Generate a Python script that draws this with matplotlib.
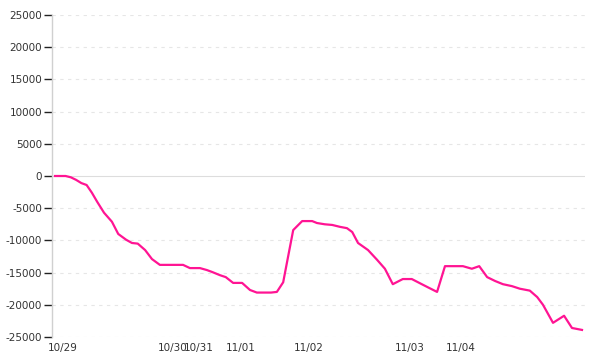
import matplotlib
matplotlib.use("Agg")
import matplotlib.pyplot as plt

# sample positions (index along the series) and values
steps = [0, 2, 3, 4, 5, 6, 7, 8, 9.3, 10.8, 12, 13.5, 14.6, 15.7, 17.1, 18.4, 19.4, 19.9,
         24.3, 25.6, 27.5, 28.8, 29.8, 31.3, 32.4, 33.8, 35.5, 37.0, 38.3, 41.0, 42.1,
         43.3, 44.0, 45.2, 46.9, 48.8, 49.7, 51.2, 52.6, 54.1, 55.4, 56.4, 57.5, 59.4,
         61.1, 62.6, 64.1, 66.0, 67.7, 69.6, 70.8, 72.5, 74.0, 77.4, 79.1, 80.5, 82.0,
         83.5, 85.0, 86.7, 88.2, 90.1, 91.5, 92.6, 94.5, 96.6, 98.1, 100]
values = [0, 0, -200, -600, -1100, -1400, -2600, -4000, -5700, -7100, -9000, -9900,
          -10400, -10500, -11500, -12900, -13500, -13800,
          -13800, -14300, -14300, -14600, -14900, -15400, -15700, -16600, -16600,
          -17700, -18100, -18100, -18000, -16500, -13500, -8400, -7000, -7000, -7300,
          -7500, -7600, -7900, -8100, -8700, -10400, -11500, -13000, -14400, -16800,
          -16000, -16000, -16800, -17300, -18000, -14000, -14000, -14400, -14000,
          -15700, -16300, -16800, -17100, -17500, -17800, -18800, -20000, -22800,
          -21700, -23600, -23900]

tick_pos = [1.5, 22.4, 27.3, 35.3, 48.2, 67.4, 77.0]
tick_labels = ["10/29", "10/30", "10/31", "11/01", "11/02", "11/03", "11/04"]
y_ticks = [-25000, -20000, -15000, -10000, -5000, 0, 5000, 10000, 15000, 20000, 25000]

fig = plt.figure(figsize=(6, 3.6), dpi=100)
ax = fig.add_axes([52/600, 1 - 337/360, (585 - 52)/600, (337 - 15)/360])

for yv in y_ticks:
    if yv == 0:
        ax.axhline(yv, color="#dddddd", lw=0.8, zorder=1)
    else:
        ax.axhline(yv, color="#e6e6e6", lw=0.8, ls=(0, (3, 4)), zorder=1)

ax.plot(steps, values, color="#ff1493", lw=1.6, zorder=3)

ax.set_xlim(-0.57, 100.57)
ax.set_ylim(-25000, 25000)
ax.set_yticks(y_ticks)
ax.set_yticklabels([str(v) for v in y_ticks])
ax.set_xticks(tick_pos)
ax.set_xticklabels(tick_labels)

for s in ["top", "right", "bottom"]:
    ax.spines[s].set_visible(False)
ax.spines["left"].set_color("#d0d0d0")
ax.spines["left"].set_linewidth(1.0)

ax.tick_params(axis="y", length=6, width=1, color="#222222", labelsize=7.5,
               labelcolor="#333333", pad=1)
ax.tick_params(axis="x", length=0, labelsize=7.5, labelcolor="#333333", pad=4)

fig.savefig("out.png", dpi=100)
